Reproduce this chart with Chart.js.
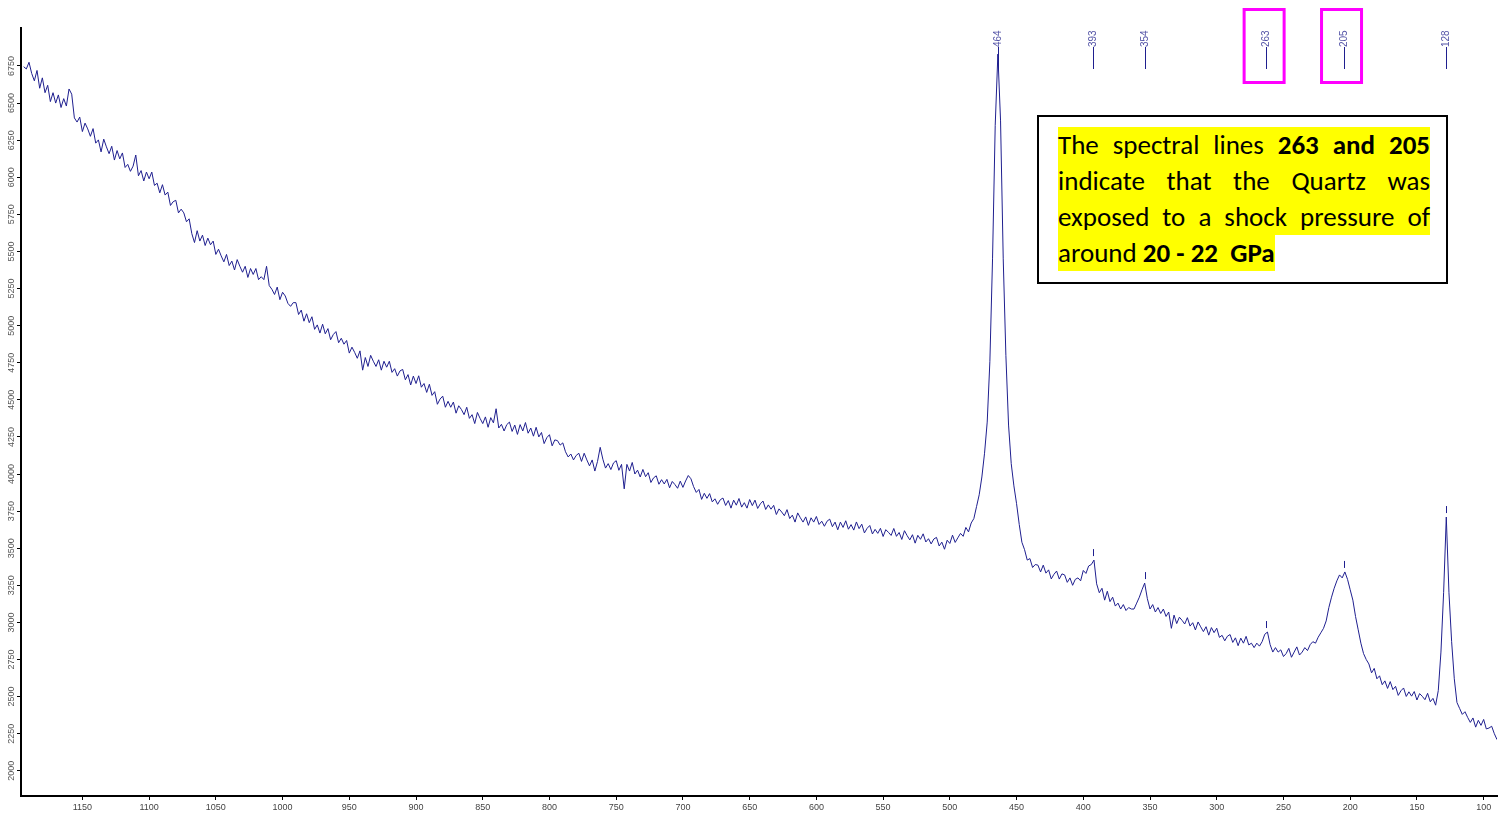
<!DOCTYPE html>
<html>
<head>
<meta charset="utf-8">
<title>Raman spectrum – shocked quartz</title>
<script src="https://cdn.jsdelivr.net/npm/chart.js@4.4.1/dist/chart.umd.min.js"></script>
<style>
  html, body { margin: 0; padding: 0; background: #fff; }
  #wrap { position: relative; width: 1506px; height: 816px; overflow: hidden; }
  #spectrum { position: absolute; left: 0; top: 0; }
  #note {
    position: absolute; left: 1037px; top: 115px;
    width: 407px; height: 165px;
    border: 2px solid #000; background: #fff;
    font-family: Carlito, Lato, "Open Sans", sans-serif;
    font-size: 27px; color: #000;
  }
  #note .txt { position: absolute; left: 19px; top: 10px; width: 372px; }
  #note .ln {
    height: 36px; line-height: 36px; background: #ffff00;
    text-align: justify; text-align-last: justify;
  }
  #note .last { display: inline-block; text-align: left; text-align-last: left; }
  #note b { font-weight: 700; }
</style>
</head>
<body>
<div id="wrap">
  <canvas id="spectrum" width="1506" height="816"></canvas>
  <div id="note">
    <div class="txt">
      <div class="ln">The spectral lines <b>263 and 205</b></div>
      <div class="ln">indicate that the Quartz was</div>
      <div class="ln">exposed to a shock pressure of</div>
      <div class="ln last">around <b>20 - 22&nbsp; GPa</b></div>
    </div>
  </div>
</div>
<script>
// Raman shift grid (cm-1): 1194 down to 90 in 2 cm-1 steps
const shiftStart = 1194;
const shiftStep = 2;

// Measured intensity (counts), one value per grid point, 10 per row (20 cm-1 per row)
const intensity = [
  6745, 6730, 6775, 6700, 6650, 6720, 6600, 6670, 6570, 6620,
  6510, 6570, 6500, 6555, 6470, 6530, 6480, 6595, 6560, 6400,
  6372, 6406, 6308, 6365, 6326, 6276, 6328, 6230, 6252, 6171,
  6257, 6205, 6159, 6209, 6116, 6180, 6124, 6164, 6066, 6087,
  6040, 6075, 6150, 6010, 6045, 5975, 6035, 5990, 6035, 5945,
  5960, 5895, 5950, 5880, 5900, 5810, 5835, 5845, 5760, 5785,
  5760, 5700, 5720, 5620, 5560, 5640, 5570, 5610, 5540, 5590,
  5545, 5570, 5480, 5515, 5470, 5430, 5480, 5405, 5435, 5375,
  5445, 5400, 5360, 5400, 5325, 5385, 5345, 5385, 5310, 5330,
  5310, 5400, 5270, 5245, 5210, 5260, 5175, 5225, 5200, 5150,
  5130, 5155, 5155, 5075, 5105, 5030, 5080, 5020, 5060, 4975,
  5005, 4950, 5010, 4945, 4980, 4905, 4940, 4960, 4885, 4915,
  4875, 4900, 4815, 4855, 4820, 4780, 4830, 4700, 4785, 4725,
  4800, 4760, 4725, 4770, 4700, 4760, 4720, 4760, 4685, 4710,
  4660, 4695, 4705, 4635, 4670, 4600, 4660, 4610, 4662, 4585,
  4610, 4550, 4605, 4530, 4555, 4470, 4505, 4525, 4450, 4490,
  4450, 4485, 4410, 4460, 4435, 4400, 4450, 4375, 4400, 4340,
  4415, 4375, 4340, 4385, 4315, 4380, 4345, 4440, 4310, 4335,
  4290, 4333, 4350, 4287, 4330, 4267, 4333, 4290, 4347, 4275,
  4310, 4255, 4315, 4250, 4280, 4205, 4245, 4265, 4190, 4230,
  4225, 4195, 4210, 4150, 4115, 4135, 4095, 4125, 4140, 4085,
  4140, 4095, 4055, 4095, 4020, 4085, 4180, 4100, 4040, 4070,
  4030, 4075, 4090, 4025, 4065, 3900, 4065, 4020, 4078, 4000,
  4026, 3980, 4031, 3982, 4009, 3943, 3974, 3988, 3931, 3962,
  3933, 3964, 3907, 3950, 3929, 3904, 3952, 3910, 3953, 3990,
  3968, 3915, 3876, 3896, 3829, 3870, 3836, 3868, 3812, 3833,
  3796, 3827, 3838, 3788, 3821, 3770, 3824, 3790, 3835, 3777,
  3807, 3770, 3828, 3787, 3824, 3768, 3799, 3818, 3761, 3792,
  3763, 3789, 3727, 3765, 3744, 3719, 3760, 3700, 3723, 3676,
  3738, 3705, 3676, 3711, 3654, 3705, 3676, 3714, 3660, 3682,
  3648, 3682, 3696, 3645, 3676, 3624, 3676, 3640, 3685, 3628,
  3659, 3622, 3677, 3632, 3662, 3603, 3634, 3653, 3596, 3627,
  3600, 3634, 3579, 3625, 3607, 3586, 3633, 3580, 3606, 3559,
  3618, 3585, 3556, 3591, 3534, 3587, 3560, 3597, 3542, 3564,
  3529, 3562, 3573, 3515, 3541, 3493, 3554, 3532, 3588, 3539,
  3570, 3600, 3580, 3640, 3610, 3670, 3700, 3780, 3860, 3980,
  4140, 4350, 4760, 5450, 6350, 6830, 6380, 5450, 4800, 4330,
  4070, 3920, 3800, 3660, 3540, 3490, 3420, 3430, 3370, 3390,
  3386, 3340, 3386, 3332, 3354, 3293, 3324, 3346, 3292, 3327,
  3320, 3270, 3300, 3250, 3290, 3300, 3280, 3350, 3330, 3380,
  3390, 3420, 3260, 3200, 3230, 3150, 3210, 3140, 3170, 3110,
  3130, 3090, 3120, 3080, 3100, 3090, 3090, 3130, 3170, 3220,
  3265, 3160, 3090, 3120, 3070, 3100, 3060, 3090, 3040, 3070,
  2960, 3049, 2992, 3035, 3014, 2989, 3032, 2975, 2998, 2949,
  3003, 2970, 2938, 2971, 2914, 2965, 2931, 2961, 2899, 2913,
  2876, 2907, 2918, 2865, 2896, 2843, 2894, 2860, 2906, 2848,
  2860, 2830, 2860, 2840, 2870, 2920, 2935, 2850, 2800, 2830,
  2800, 2815, 2770, 2790, 2825, 2765, 2800, 2835, 2780, 2800,
  2830, 2810, 2850, 2870, 2860, 2900, 2930, 2960, 3010, 3100,
  3170, 3230, 3280, 3320, 3300, 3340, 3290, 3220, 3150, 3040,
  2950, 2860, 2790, 2750, 2720, 2660, 2690, 2620, 2640, 2580,
  2606, 2555, 2601, 2547, 2569, 2508, 2539, 2558, 2501, 2532,
  2503, 2534, 2477, 2520, 2502, 2479, 2522, 2465, 2488, 2442,
  2540, 2800, 3200, 3710, 3200, 2870, 2620, 2460, 2420, 2380,
  2398, 2360, 2326, 2356, 2294, 2340, 2306, 2346, 2282, 2288,
  2300, 2250, 2210
];

// Labelled band positions (cm-1) and the two bands boxed as shock indicators
const peakShifts = [464, 393, 354, 263, 205, 128];
const boxedPeaks = [263, 205];

// Axis tick values
const xTicks = [1150, 1100, 1050, 1000, 950, 900, 850, 800, 750, 700, 650, 600, 550, 500, 450, 400, 350, 300, 250, 200, 150, 100];
const yTicks = [2000, 2250, 2500, 2750, 3000, 3250, 3500, 3750, 4000, 4250, 4500, 4750, 5000, 5250, 5500, 5750, 6000, 6250, 6500, 6750];

const shift = intensity.map((_, i) => shiftStart - i * shiftStep);
const points = shift.map((s, i) => ({ x: s, y: intensity[i] }));

const LINE_COLOR = '#1f1f8f';
const LABEL_COLOR = '#5656a8';

function peakMaxIndex(p) {
  let best = -1;
  for (let i = 0; i < shift.length; i++) {
    if (Math.abs(shift[i] - p) <= 1.5 && (best < 0 || intensity[i] > intensity[best])) best = i;
  }
  return best;
}

// Rotated y tick labels, band labels, peak markers and highlight boxes
const annotate = {
  id: 'annotate',
  afterDraw(chart) {
    const ctx = chart.ctx;
    const xs = chart.scales.x, ys = chart.scales.y;
    ctx.save();

    // y tick labels, rotated to read upward
    ctx.font = '9px "Liberation Sans", Arial, sans-serif';
    ctx.fillStyle = '#555';
    ctx.textAlign = 'center';
    ctx.textBaseline = 'middle';
    ys.ticks.forEach(t => {
      const py = ys.getPixelForValue(t.value);
      ctx.save();
      ctx.translate(12, py);
      ctx.rotate(-Math.PI / 2);
      ctx.fillText(String(t.value), 0, 0);
      ctx.restore();
    });

    // band labels along the top with their lead lines
    peakShifts.forEach(p => {
      const px = Math.round(xs.getPixelForValue(p)) + 0.5;
      ctx.strokeStyle = LINE_COLOR;
      ctx.lineWidth = 1;
      ctx.beginPath();
      ctx.moveTo(px, 47);
      ctx.lineTo(px, 69);
      ctx.stroke();
      ctx.save();
      ctx.translate(px, 47);
      ctx.rotate(-Math.PI / 2);
      ctx.font = '10px "Liberation Sans", Arial, sans-serif';
      ctx.fillStyle = LABEL_COLOR;
      ctx.textAlign = 'left';
      ctx.textBaseline = 'middle';
      ctx.fillText(String(p), 0, 0);
      ctx.restore();

      // small marker just above the band maximum
      const k = peakMaxIndex(p);
      if (k >= 0 && p !== 464) {
        const py = ys.getPixelForValue(intensity[k]);
        ctx.beginPath();
        ctx.moveTo(px, py - 11);
        ctx.lineTo(px, py - 4);
        ctx.stroke();
      }
    });

    // magenta boxes round the shock-indicator bands
    ctx.strokeStyle = '#ff00ff';
    ctx.lineWidth = 3;
    boxedPeaks.forEach(p => {
      const px = xs.getPixelForValue(p);
      ctx.strokeRect(px - 22, 9.5, 40, 73);
    });
    ctx.restore();
  }
};

new Chart(document.getElementById('spectrum'), {
  type: 'line',
  data: {
    datasets: [{
      data: points,
      borderColor: LINE_COLOR,
      borderWidth: 1,
      pointRadius: 0,
      tension: 0,
      fill: false
    }]
  },
  options: {
    responsive: false,
    animation: false,
    devicePixelRatio: 1,
    layout: { padding: { top: 28, right: 9, left: 0, bottom: 0 } },
    plugins: { legend: { display: false }, tooltip: { enabled: false } },
    scales: {
      x: {
        type: 'linear',
        reverse: true,
        min: 90,
        max: 1196,
        afterBuildTicks: s => { s.ticks = xTicks.map(v => ({ value: v })); },
        afterFit: s => { s.height = 20; },
        ticks: {
          autoSkip: false,
          maxRotation: 0,
          padding: 2,
          color: '#444',
          font: { family: '"Liberation Sans", Arial, sans-serif', size: 9 },
          callback: v => String(v)
        },
        grid: { drawOnChartArea: false, drawTicks: true, tickLength: 4, tickColor: '#000' },
        border: { color: '#000', width: 2 }
      },
      y: {
        type: 'linear',
        min: 1830,
        max: 7006,
        afterBuildTicks: s => { s.ticks = yTicks.map(v => ({ value: v })); },
        afterFit: s => { s.width = 21; },
        ticks: { display: false },
        grid: { drawOnChartArea: false, drawTicks: true, tickLength: 4, tickColor: '#000' },
        border: { color: '#000', width: 2 }
      }
    }
  },
  plugins: [annotate]
});
</script>
</body>
</html>
